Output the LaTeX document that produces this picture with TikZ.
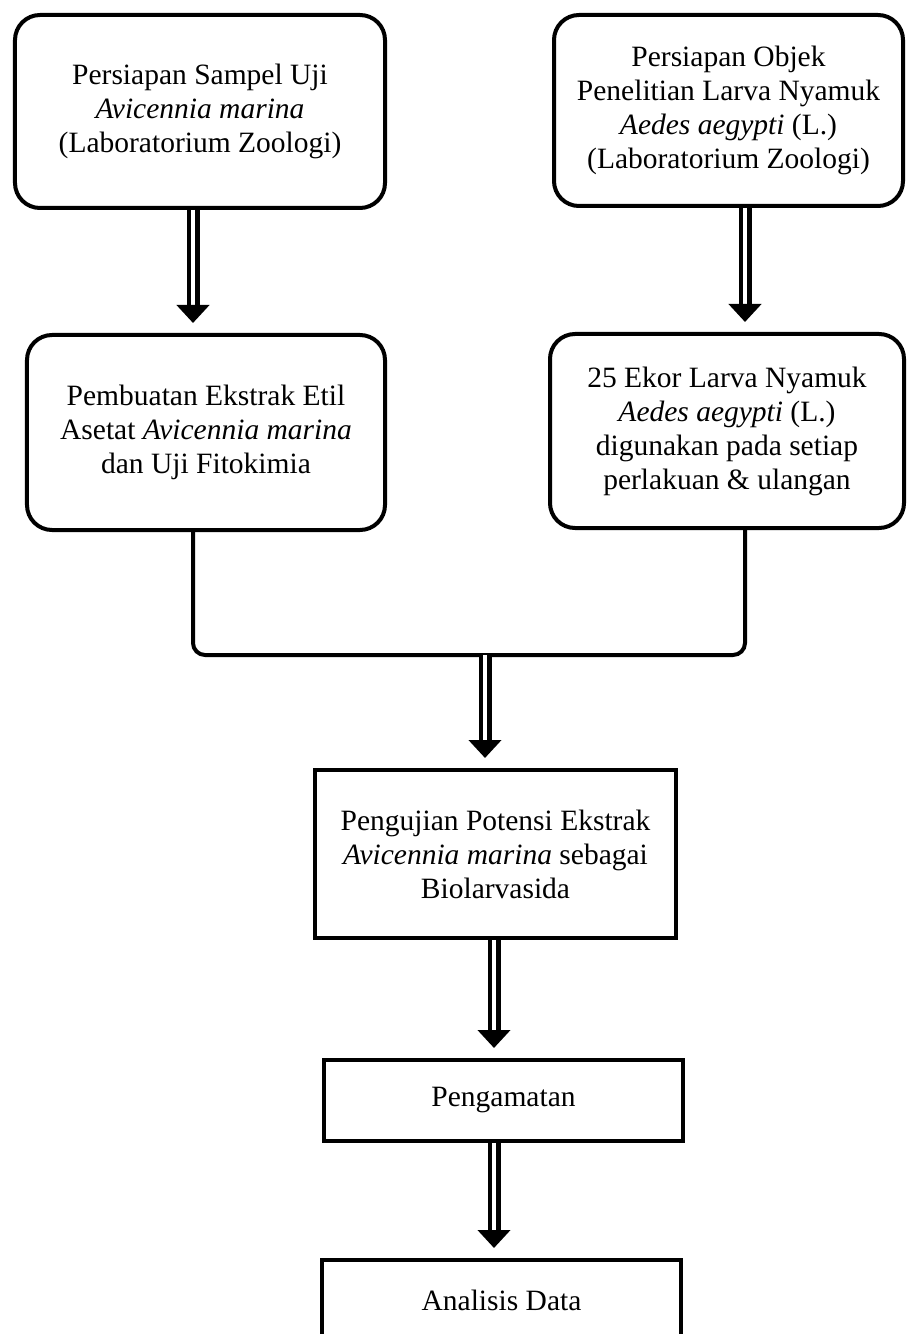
\documentclass[tikz,border=0pt]{standalone}
\usepackage{fontspec}
\setmainfont{Liberation Serif}
\usetikzlibrary{arrows.meta}

\begin{document}
\begin{tikzpicture}[x=1bp, y=-1bp,
  every node/.style={draw, line width=4bp, align=center, inner sep=0pt,
    font=\fontsize{29.5bp}{34bp}\selectfont},
  roundbox/.style={rounded corners=25bp},
  conn/.style={line width=4bp, rounded corners=12bp},
  dblarrow/.style={double, double distance=4bp, line width=4.5bp, shorten >=10bp,
    -{Triangle[length=18bp, width=32bp]}}
  ]
  \useasboundingbox (0,0) rectangle (907,1334);
  % columns of the connectors
  \coordinate (colL) at (193,0);
  \coordinate (colR) at (745,0);
  \coordinate (colM) at (494,0);
  \coordinate (merge) at (485,655);

  \node[roundbox, minimum width=370bp, minimum height=193bp] (sampel) at (200,111.5)
    {Persiapan Sampel Uji\\ \textit{Avicennia marina}\\ (Laboratorium Zoologi)};
  \node[roundbox, minimum width=349bp, minimum height=191bp] (objek) at (728.5,110.5)
    {Persiapan Objek\\ Penelitian Larva Nyamuk\\ \textit{Aedes aegypti} (L.)\\ (Laboratorium Zoologi)};
  \node[roundbox, minimum width=358bp, minimum height=195bp] (ekstrak) at (206,432.5)
    {Pembuatan Ekstrak Etil\\ Asetat \textit{Avicennia marina}\\ dan Uji Fitokimia};
  \node[roundbox, minimum width=354bp, minimum height=194bp] (larva) at (727,431)
    {25 Ekor Larva Nyamuk\\ \textit{Aedes aegypti} (L.)\\ digunakan pada setiap\\ perlakuan \& ulangan};
  \node[minimum width=361bp, minimum height=168bp] (uji) at (495.5,854)
    {Pengujian Potensi Ekstrak\\ \textit{Avicennia marina} sebagai\\ Biolarvasida};
  \node[minimum width=359bp, minimum height=81bp] (amat) at (503.5,1100.5)
    {Pengamatan};
  \node[minimum width=359bp, minimum height=80bp] (analisis) at (501.5,1300)
    {Analisis Data};

  \draw[dblarrow] (sampel.south -| colL) -- (ekstrak.north -| colL);
  \draw[dblarrow] (objek.south -| colR) -- (larva.north -| colR);
  \draw[conn] (ekstrak.south -| colL) -- (colL |- merge) -- (colR |- merge) -- (larva.south -| colR);
  \draw[dblarrow] (merge) -- (uji.north -| merge);
  \draw[dblarrow] (uji.south -| colM) -- (amat.north -| colM);
  \draw[dblarrow] (amat.south -| colM) -- (analisis.north -| colM);
\end{tikzpicture}
\end{document}
